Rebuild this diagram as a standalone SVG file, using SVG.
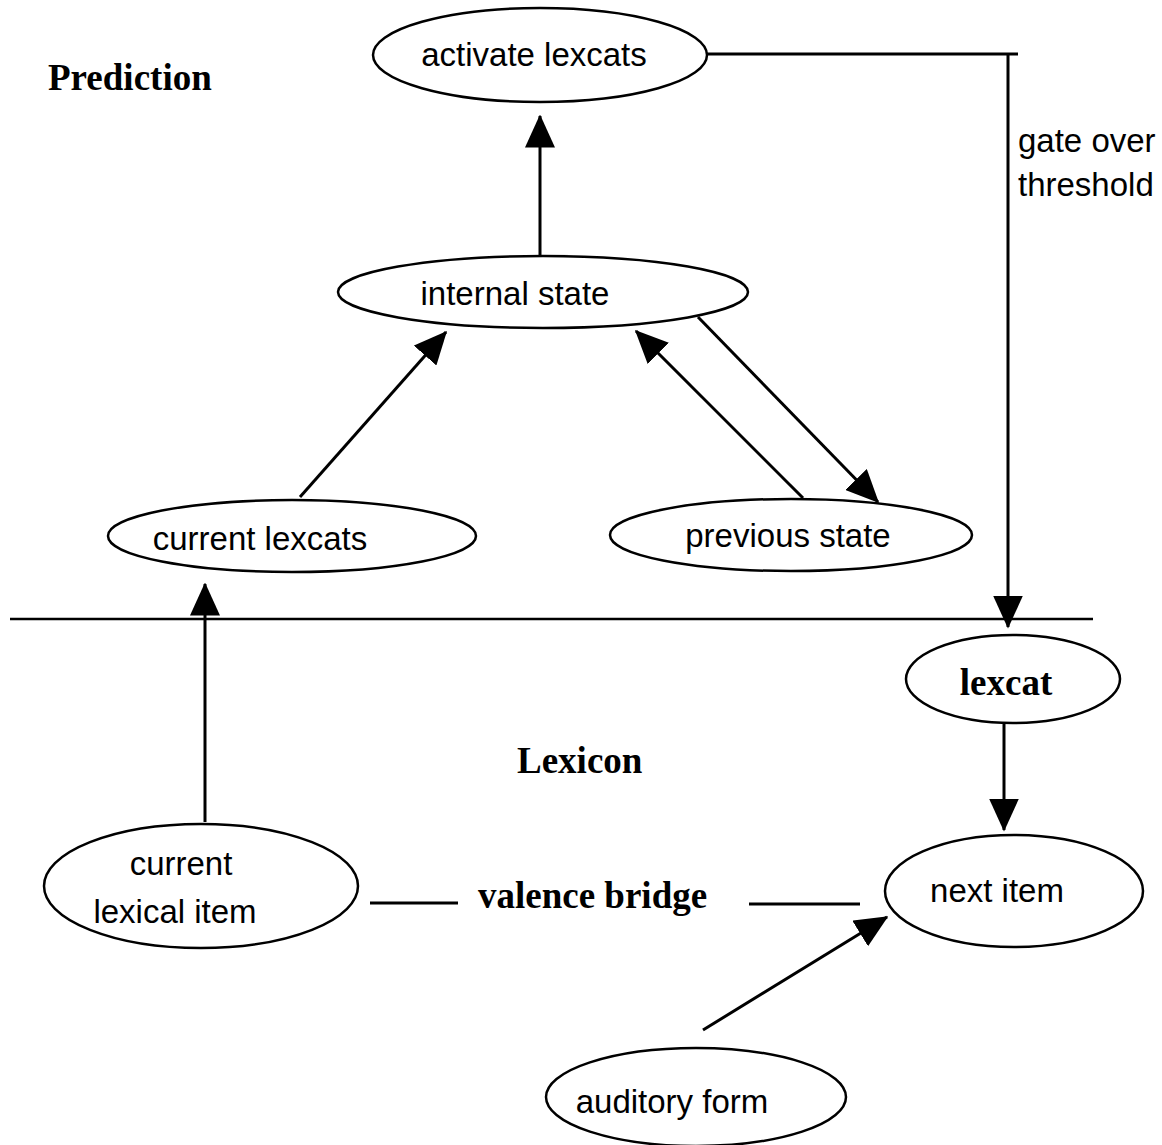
<svg xmlns="http://www.w3.org/2000/svg" width="1162" height="1145" viewBox="0 0 1162 1145">
  <style>
    .node { fill: #fff; stroke: #000; stroke-width: 2.5; }
    .lbl { font-family: "Liberation Sans", Arial, sans-serif; font-size: 33px; fill: #000; }
    .head { font-family: "Liberation Serif", "Times New Roman", serif; font-size: 37px; font-weight: bold; fill: #000; }
    .edge { fill: none; stroke: #000; stroke-width: 3; }
  </style>
  <defs>
    <marker id="arrow" markerWidth="11" markerHeight="10" refX="10.5" refY="5" orient="auto" markerUnits="strokeWidth">
      <path d="M0,0 L11,5 L0,10 Z" fill="#000"/>
    </marker>
  </defs>
  <rect width="1162" height="1145" fill="#fff"/>

  <!-- section headings -->
  <text class="head" x="48" y="90">Prediction</text>
  <text class="head" x="517" y="773">Lexicon</text>

  <!-- divider between prediction and lexicon -->
  <line x1="10" y1="619" x2="1093" y2="619" stroke="#000" stroke-width="2.5"/>

  <g id="connectors">
    <line class="edge" x1="540" y1="256" x2="540" y2="116" marker-end="url(#arrow)"/>
    <line class="edge" x1="300" y1="497" x2="446" y2="332" marker-end="url(#arrow)"/>
    <line class="edge" x1="803" y1="498" x2="636" y2="331" marker-end="url(#arrow)"/>
    <line class="edge" x1="698" y1="317" x2="878" y2="502" marker-end="url(#arrow)"/>
    <polyline class="edge" points="707,54 1018,54"/>
    <line class="edge" x1="1008" y1="54" x2="1008" y2="627" marker-end="url(#arrow)"/>
    <line class="edge" x1="205" y1="822" x2="205" y2="584" marker-end="url(#arrow)"/>
    <line class="edge" x1="1004" y1="723" x2="1004" y2="830" marker-end="url(#arrow)"/>
    <line class="edge" x1="703" y1="1030" x2="887" y2="917" marker-end="url(#arrow)"/>
    <line class="edge" x1="370" y1="903" x2="458" y2="903"/>
    <line class="edge" x1="749" y1="904" x2="860" y2="904"/>
    <text class="lbl" x="1018" y="152">gate over</text>
    <text class="lbl" x="1018" y="196">threshold</text>
    <text class="head" x="478" y="908">valence bridge</text>
  </g>

  <g id="activate-lexcats">
    <ellipse class="node" cx="540" cy="55" rx="167" ry="47"/>
    <text class="lbl" x="534" y="66" text-anchor="middle">activate lexcats</text>
  </g>
  <g id="internal-state">
    <ellipse class="node" cx="543" cy="292" rx="205" ry="36"/>
    <text class="lbl" x="515" y="305" text-anchor="middle">internal state</text>
  </g>
  <g id="current-lexcats">
    <ellipse class="node" cx="292" cy="536" rx="184" ry="36"/>
    <text class="lbl" x="260" y="550" text-anchor="middle">current lexcats</text>
  </g>
  <g id="previous-state">
    <ellipse class="node" cx="791" cy="535" rx="181" ry="36"/>
    <text class="lbl" x="788" y="547" text-anchor="middle">previous state</text>
  </g>
  <g id="lexcat">
    <ellipse class="node" cx="1013" cy="679" rx="107" ry="44"/>
    <text class="head" x="1006" y="695" text-anchor="middle">lexcat</text>
  </g>
  <g id="current-lexical-item">
    <ellipse class="node" cx="201" cy="886" rx="157" ry="62"/>
    <text class="lbl" x="181" y="875" text-anchor="middle">current</text>
    <text class="lbl" x="175" y="923" text-anchor="middle">lexical item</text>
  </g>
  <g id="next-item">
    <ellipse class="node" cx="1014" cy="891" rx="129" ry="56"/>
    <text class="lbl" x="997" y="902" text-anchor="middle">next item</text>
  </g>
  <g id="auditory-form">
    <ellipse class="node" cx="696" cy="1097" rx="150" ry="49"/>
    <text class="lbl" x="672" y="1113" text-anchor="middle">auditory form</text>
  </g>
</svg>
